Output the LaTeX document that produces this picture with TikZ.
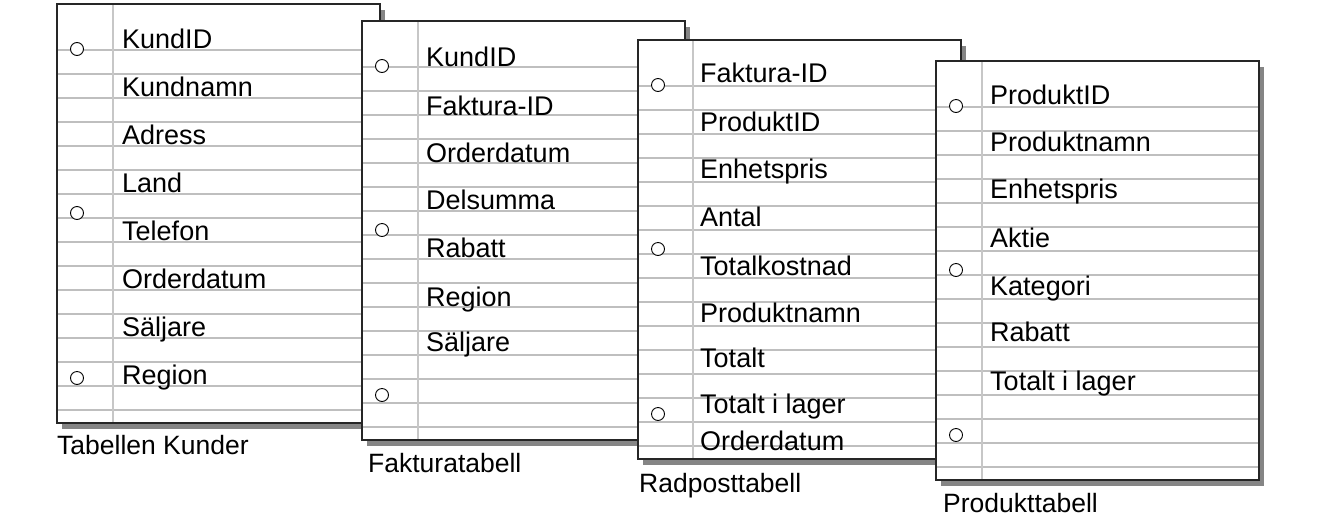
\documentclass[tikz,border=0pt]{standalone}
\usepackage{fontspec}
\setmainfont{Liberation Sans}
\usetikzlibrary{positioning}
\newcommand{\SHEETWIDTH}{323}
\newcommand{\SHEETHEIGHT}{419}
\newcommand{\RULESTART}{46}
\newcommand{\RULESTEP}{24}

\tikzset{
    sheet/.style={draw=black!85, line width=1.3pt},
    sheetshadow/.style={fill=black!48},
    ruleline/.style={draw=black!25, line width=1.4pt},
    marginline/.style={draw=black!22, line width=1.4pt},
    hole/.style={draw=black, line width=0.9pt, fill=white},
    field/.style={anchor=base west, inner sep=0pt, font=\fontsize{27}{32}\selectfont},
    caption/.style={anchor=base west, inner sep=0pt, font=\fontsize{26.5}{32}\selectfont}
}

\begin{document}
\begin{tikzpicture}[x=1pt, y=-1pt]
            \useasboundingbox (0, 0) rectangle (1343, 528);

            % draw the four sheets, back to front
            \foreach \name/\sx/\sy/\margin in {kunder/57/4/56, faktura/362/21/56, radpost/638/40/55, produkt/936/61/46} {
                    \fill[sheetshadow] (\sx + 5, \sy + 6) rectangle ++(\SHEETWIDTH, \SHEETHEIGHT);
                    \fill[white] (\sx, \sy) rectangle ++(\SHEETWIDTH, \SHEETHEIGHT);

                    % rules of the sheet
                    \foreach \k in {0, ..., 15} {
                            \draw[ruleline] (\sx, {\sy + \RULESTART + \RULESTEP * \k}) -- ++(\SHEETWIDTH, 0);
                        }
                    \draw[marginline] (\sx + \margin, \sy) -- ++(0, \SHEETHEIGHT);
                    \draw[sheet] (\sx, \sy) rectangle ++(\SHEETWIDTH, \SHEETHEIGHT);
                    \coordinate (\name-nw) at (\sx, \sy);

                    % binder holes
                    \foreach \h in {45, 209, 374} {
                            \draw[hole] (\sx + 20, \sy + \h) circle (6.5pt);
                        }
                }

            % fields of each table
            \foreach \txt/\y [count=\i] in {KundID/48, Kundnamn/96, Adress/144, Land/192, Telefon/240, Orderdatum/288, Säljare/336, Region/384} {
                    \node[field] (kunder-\i) at (122, \y) {\txt};
                }
            \foreach \txt/\y [count=\i] in {KundID/66, Faktura-ID/115, Orderdatum/162, Delsumma/209, Rabatt/257, Region/306, Säljare/351} {
                    \node[field] (faktura-\i) at (426, \y) {\txt};
                }
            \foreach \txt/\y [count=\i] in {Faktura-ID/82, ProduktID/131, Enhetspris/178, Antal/226, Totalkostnad/275, Produktnamn/322, Totalt/367, Totalt i lager/413, Orderdatum/450} {
                    \node[field] (radpost-\i) at (700, \y) {\txt};
                }
            \foreach \txt/\y [count=\i] in {ProduktID/104, Produktnamn/151, Enhetspris/198, Aktie/247, Kategori/295, Rabatt/341, Totalt i lager/390} {
                    \node[field] (produkt-\i) at (990, \y) {\txt};
                }

            % table names
            \node[caption] (kunder-label) at (57, 454) {Tabellen Kunder};
            \node[caption] (faktura-label) at (368, 472) {Fakturatabell};
            \node[caption] (radpost-label) at (639, 492) {Radposttabell};
            \node[caption] (produkt-label) at (943, 512) {Produkttabell};
        \end{tikzpicture}
\end{document}
